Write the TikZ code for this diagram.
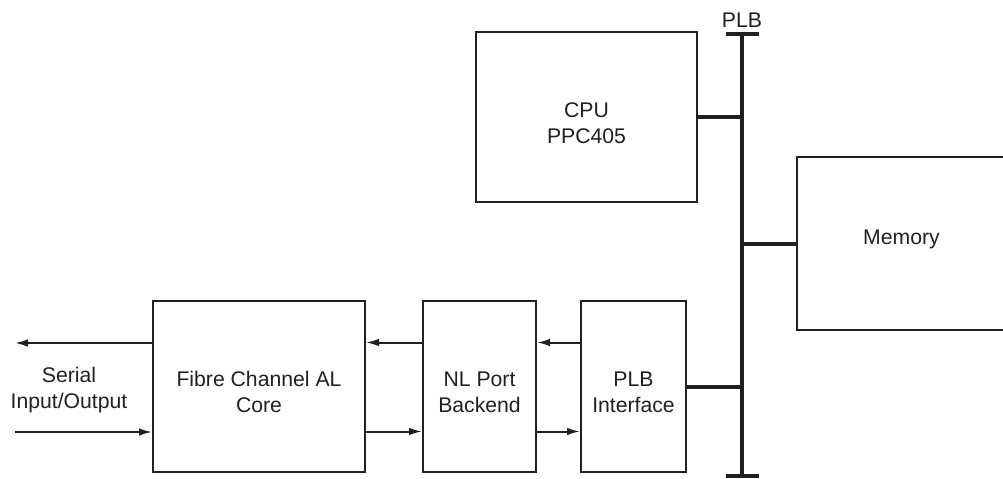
\documentclass[tikz,border=0pt]{standalone}
\usepackage{fontspec}
\setmainfont{Liberation Sans}
\usetikzlibrary{arrows.meta}

\definecolor{ink}{RGB}{35,31,32}

\tikzset{
  block/.style={draw=ink, text=ink, line width=1pt, align=center, inner sep=0pt,
    minimum height=85.5pt, font=\fontsize{10.6}{13}\selectfont},
  label/.style={text=ink, align=center, inner sep=0pt, font=\fontsize{10.6}{13}\selectfont},
  link/.style={draw=ink, line width=1pt, -{Latex[length=6.5pt,width=3.8pt]}},
  busline/.style={draw=ink, line width=2pt},
}

\begin{document}
\begin{tikzpicture}[x=0.5pt,y=-0.5pt]
  \useasboundingbox (0,0) rectangle (1003,478);
  % blocks
  \node[block, minimum width=110.5pt, minimum height=85pt] (cpu) at (586.5,117) {};
  \node[block, minimum width=104.5pt, minimum height=86.5pt] (mem) at (901.5,243.5) {};
  \node[block, minimum width=106pt] (fc) at (259,386.5) {};
  \node[block, minimum width=56.5pt] (nlp) at (479.5,386.5) {};
  \node[block, minimum width=52.5pt] (pif) at (633.5,386.5) {};
  % block texts
  \node[label] (cputxt) at (586.5,123) {CPU\\PPC405};
  \node[label] (memtxt) at (901.5,239) {Memory};
  \node[label] (fctxt) at (259,392) {Fibre Channel AL\\Core};
  \node[label] (nlptxt) at (479.5,392) {NL Port\\Backend};
  \node[label] (piftxt) at (633.5,392) {PLB\\Interface};
  \node[label] (ser) at (69,390) {Serial\\Input/Output};
  % PLB bus
  \coordinate (bustop) at (742,34); \coordinate (busbot) at (742,476);
  \draw[busline] (bustop) -- (busbot);
  \foreach \e in {bustop, busbot}
    \draw[busline] ([xshift=-8.25pt]\e) -- ([xshift=8.25pt]\e);
  \node[label, above=3pt] (plb) at (bustop) {PLB};
  \foreach \b in {cpu, pif}
    \draw[busline] (\b.east) -- (\b.east -| bustop);
  \draw[busline] (mem.west) -- (mem.west -| bustop);
  % data paths
  \draw[link] ([yshift=22pt]pif.west) -- ([yshift=22pt]nlp.east);
  \draw[link] ([yshift=22pt]nlp.west) -- ([yshift=22pt]fc.east);
  \draw[link] ([yshift=-22.5pt]fc.east) -- ([yshift=-22.5pt]nlp.west);
  \draw[link] ([yshift=-22.5pt]nlp.east) -- ([yshift=-22.5pt]pif.west);
  \coordinate (serout) at (15,343); \coordinate (serin) at (15,432);
  \draw[link] (fc.west |- serout) -- (serout);
  \draw[link] (serin) -- (serin -| fc.west);
\end{tikzpicture}
\end{document}
